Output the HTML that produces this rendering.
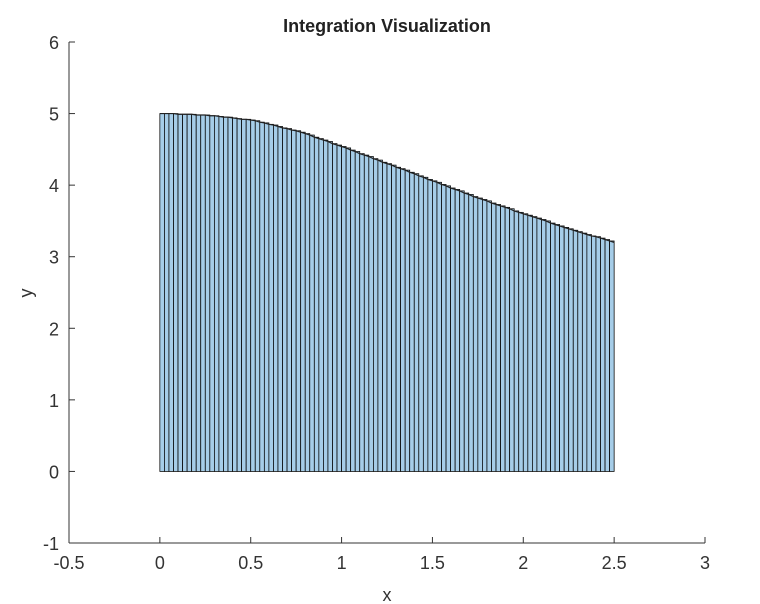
<!DOCTYPE html>
<html><head><meta charset="utf-8"><style>
html,body{margin:0;padding:0;background:#fff;}
svg{display:block;font-family:"Liberation Sans",Arial,sans-serif;}
</style></head><body>
<svg id="chart" width="760" height="604" viewBox="0 0 760 604">
<g id="bars"></g>
<g id="curve-g"></g>
<g id="axes"></g>
<text x="387" y="32" text-anchor="middle" font-size="18" font-weight="bold" fill="#222">Integration Visualization</text>
<text x="387" y="601" text-anchor="middle" font-size="18" fill="#333">x</text>
<text x="32" y="293" text-anchor="middle" font-size="18" fill="#333" transform="rotate(-90 32 293)">y</text>
</svg>
<script>
const xTicks = [-0.5, 0, 0.5, 1, 1.5, 2, 2.5, 3];
const xTickLabels = ["-0.5", "0", "0.5", "1", "1.5", "2", "2.5", "3"];
const yTicks = [-1, 0, 1, 2, 3, 4, 5, 6];
const yTickLabels = ["-1", "0", "1", "2", "3", "4", "5", "6"];
const barStart = 0;
const barWidth = 0.025;
const barHeights = [
5.00,5.00,5.00,5.00,4.99,4.99,4.99,4.99,4.98,4.98,
4.98,4.97,4.97,4.96,4.95,4.95,4.94,4.93,4.92,4.92,
4.91,4.90,4.88,4.87,4.85,4.84,4.82,4.80,4.79,4.77,
4.76,4.74,4.72,4.70,4.67,4.65,4.63,4.61,4.58,4.56,
4.54,4.52,4.49,4.47,4.44,4.42,4.40,4.37,4.35,4.32,
4.30,4.28,4.25,4.23,4.21,4.18,4.16,4.13,4.11,4.08,
4.06,4.04,4.01,3.99,3.96,3.94,3.92,3.89,3.87,3.84,
3.82,3.80,3.78,3.75,3.73,3.71,3.69,3.67,3.64,3.62,
3.60,3.58,3.56,3.54,3.52,3.50,3.47,3.45,3.43,3.41,
3.39,3.37,3.35,3.33,3.31,3.29,3.28,3.26,3.24,3.22];
const curveEnd = [2.5, 3.20];

const X0=69, X1=705, Y0=543, Y1=42;
const xMin=-0.5, xMax=3, yMin=-1, yMax=6;
const sx = v => X0 + (v-xMin)/(xMax-xMin)*(X1-X0);
const sy = v => Y0 - (v-yMin)/(yMax-yMin)*(Y0-Y1);
const NS="http://www.w3.org/2000/svg";
function mk(tag, attrs, parent){const e=document.createElementNS(NS,tag);for(const k in attrs)e.setAttribute(k,attrs[k]);parent.appendChild(e);return e;}

const bars=document.getElementById('bars');
barHeights.forEach((h,i)=>{
  const xa=sx(barStart+i*barWidth), xb=sx(barStart+(i+1)*barWidth);
  const r=mk('rect',{x:xa,y:sy(h),width:xb-xa,height:sy(0)-sy(h),fill:'#a6cde8',stroke:'#000','stroke-width':0.75},bars);
  
  
});
const cg=document.getElementById('curve-g');
let pts=barHeights.map((h,i)=>sx(barStart+i*barWidth)+','+sy(h));
pts.push(sx(curveEnd[0])+','+sy(curveEnd[1]));
const pl=mk('polyline',{points:pts.join(' '),fill:'none',stroke:'#222','stroke-width':1.2},cg);



const ax=document.getElementById('axes');
const xl=mk('line',{x1:X0,y1:Y0,x2:X1,y2:Y0,stroke:'#333','stroke-width':1},ax);


const yl=mk('line',{x1:X0,y1:Y0,x2:X0,y2:Y1,stroke:'#333','stroke-width':1},ax);


xTicks.forEach((t,i)=>{
  const x=sx(t);
  const tk=mk('line',{x1:x,y1:Y0,x2:x,y2:Y0-6,stroke:'#333'},ax);
  
  
  const tx=mk('text',{x:x,y:Y0+26,'text-anchor':'middle','font-size':18,fill:'#333'},ax);
  tx.textContent=xTickLabels[i];
  
  
});
yTicks.forEach((t,i)=>{
  const y=sy(t);
  const tk=mk('line',{x1:X0,y1:y,x2:X0+6,y2:y,stroke:'#333'},ax);
  
  
  const tx=mk('text',{x:X0-10,y:y+7,'text-anchor':'end','font-size':18,fill:'#333'},ax);
  tx.textContent=yTickLabels[i];
  
  
});
</script>
</body></html>
